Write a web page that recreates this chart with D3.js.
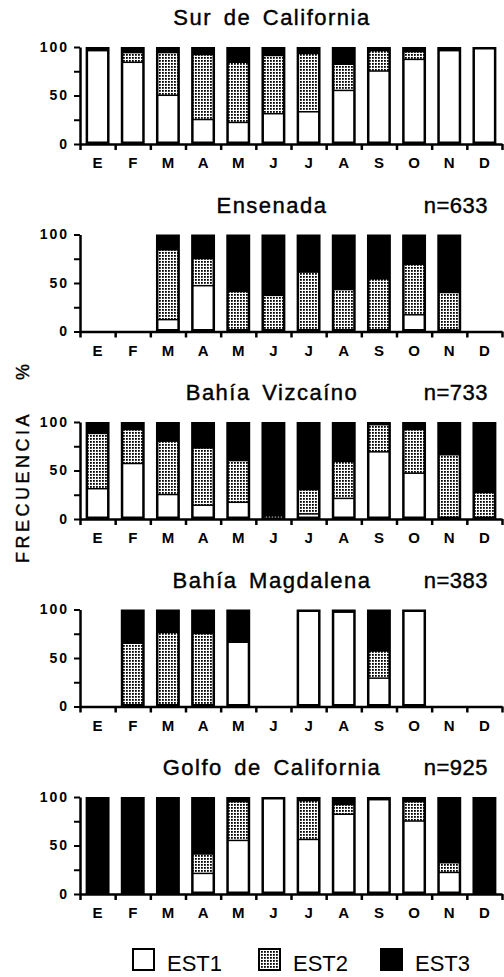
<!DOCTYPE html>
<html>
<head>
<meta charset="utf-8">
<script src="https://cdn.jsdelivr.net/npm/d3@7"></script>
<style>
  body { margin: 0; background: #fff; }
  text { font-family: "Liberation Sans", Arial, sans-serif; fill: #000; }
</style>
</head>
<body>
<div id="chart"></div>
<script>
// months (Spanish initials)
var months = ["E", "F", "M", "A", "M", "J", "J", "A", "S", "O", "N", "D"];
var regions = ["Sur de California", "Ensenada", "Bahía Vizcaíno", "Bahía Magdalena", "Golfo de California"];
var nLabels = ["", "n=633", "n=733", "n=383", "n=925"];
var legendLabels = ["EST1", "EST2", "EST3"];
var yTicks = [0, 25, 50, 75, 100];

// percent per month, null = no sample
var sur1 = [97, 85, 51, 26, 23, 32, 34, 56, 76, 88, 97, 100];
var sur2 = [0, 10, 44, 67, 62, 60, 60, 27, 21, 8, 0, 0];
var sur3 = [3, 5, 5, 7, 15, 8, 6, 17, 3, 4, 3, 0];

var ens1 = [null, null, 13, 48, 0, 0, 0, 0, 0, 18, 0, null];
var ens2 = [null, null, 72, 28, 42, 38, 62, 44, 55, 52, 41, null];
var ens3 = [null, null, 15, 24, 58, 62, 38, 56, 45, 30, 59, null];

var viz1 = [32, 58, 26, 15, 18, 0, 6, 22, 70, 48, 0, 0];
var viz2 = [57, 35, 55, 59, 43, 4, 25, 38, 28, 45, 67, 28];
var viz3 = [11, 7, 19, 26, 39, 96, 69, 40, 2, 7, 33, 72];

var mag1 = [null, 0, 0, 0, 67, null, 100, 98, 30, 100, null, null];
var mag2 = [null, 66, 77, 76, 0, null, 0, 0, 28, 0, null, null];
var mag3 = [null, 34, 23, 24, 33, null, 0, 2, 42, 0, null, null];

var gol1 = [0, 0, 0, 22, 56, 100, 57, 83, 98, 76, 23, 0];
var gol2 = [0, 0, 0, 20, 40, 0, 40, 10, 0, 20, 10, 0];
var gol3 = [100, 100, 100, 58, 4, 0, 3, 7, 2, 4, 67, 100];

var series = [
  [sur1, sur2, sur3],
  [ens1, ens2, ens3],
  [viz1, viz2, viz3],
  [mag1, mag2, mag3],
  [gol1, gol2, gol3]
];

var width = 504, height = 977;
var left = 80, right = 502;
var top0 = 47, step = 187.5, plotH = 97;

var svg = d3.select("#chart").append("svg")
  .attr("width", width)
  .attr("height", height);

// dotted fill for EST2
var pat = svg.append("defs").append("pattern")
  .attr("id", "dots")
  .attr("patternUnits", "userSpaceOnUse")
  .attr("width", 3)
  .attr("height", 3);
pat.append("rect").attr("width", 3).attr("height", 3).attr("fill", "#fff");
pat.append("rect").attr("width", 1.8).attr("height", 1.8).attr("fill", "#000");

var fills = ["#fff", "url(#dots)", "#000"];

var x = d3.scaleBand()
  .domain(d3.range(12))
  .range([left, right])
  .paddingInner(0.32)
  .paddingOuter(0.16);

var xEdge = d3.scaleLinear().domain([0, 12]).range([left, right]);

series.forEach(function (s, p) {
  var g = svg.append("g");
  var y = d3.scaleLinear()
    .domain([0, 100])
    .range([top0 + p * step + plotH, top0 + p * step]);

  // title and n
  g.append("text")
    .attr("x", 272)
    .attr("y", y(100) - 22)
    .attr("text-anchor", "middle")
    .style("font-size", "22px")
    .style("letter-spacing", "1.5px")
    .style("word-spacing", "4px")
    .style("stroke", "#000")
    .style("stroke-width", "0.4px")
    .text(regions[p]);
  g.append("text")
    .attr("x", 488)
    .attr("y", y(100) - 22)
    .attr("text-anchor", "end")
    .style("font-size", "22px")
    .style("letter-spacing", "0.5px")
    .style("stroke", "#000")
    .style("stroke-width", "0.4px")
    .text(nLabels[p]);

  // stacked bars: black body (EST3) with EST1 and EST2 inset on top
  months.forEach(function (m, i) {
    if (s[0][i] === null) return;
    var base = 0;
    var bar = g.append("g");
    bar.append("rect")
      .attr("x", x(i))
      .attr("width", x.bandwidth())
      .attr("y", y(100))
      .attr("height", y(0) - y(100))
      .attr("fill", "#000");
    for (var k = 0; k < 2; k++) {
      var v = s[k][i];
      if (v > 0) {
        bar.append("rect")
          .attr("x", x(i) + 2.5)
          .attr("width", x.bandwidth() - 5)
          .attr("y", Math.max(y(base + v) + 1.5, y(100) + 2.5))
          .attr("height", Math.max(0.8, Math.min(y(base), y(0) - 2.5) - Math.max(y(base + v) + 1.5, y(100) + 2.5)))
          .attr("fill", fills[k]);
      }
      base += v;
    }
  });

  // y axis
  var ya = g.append("g")
    .attr("transform", "translate(" + left + ",0)")
    .call(d3.axisLeft(y)
      .tickValues(yTicks)
      .tickSize(6)
      .tickSizeOuter(0)
      .tickFormat(function (d) { return d % 50 === 0 ? d : ""; }));
  ya.select(".domain").attr("stroke-width", 2.5);
  ya.selectAll(".tick line").attr("stroke-width", 2);
  ya.selectAll(".tick text")
    .attr("x", -11)
    .style("font-family", "Liberation Sans, Arial, sans-serif")
    .style("font-size", "14px")
    .style("font-weight", "bold")
    .style("letter-spacing", "2px");

  // x axis with ticks at month boundaries
  var xa = g.append("g")
    .attr("transform", "translate(0," + y(0) + ")")
    .call(d3.axisBottom(xEdge)
      .tickValues(d3.range(13))
      .tickSize(6)
      .tickSizeOuter(0)
      .tickFormat(""));
  xa.select(".domain").attr("stroke-width", 2.5);
  xa.selectAll(".tick line").attr("stroke-width", 2.5);

  g.selectAll(".mlab")
    .data(months)
    .enter().append("text")
    .attr("class", "mlab")
    .attr("x", function (d, i) { return x(i) + x.bandwidth() / 2; })
    .attr("y", y(0) + 24)
    .attr("text-anchor", "middle")
    .style("font-size", "15px")
    .style("font-weight", "bold")
    .text(function (d) { return d; });
});

// y axis title
svg.append("text")
  .attr("transform", "translate(29,487) rotate(-90)")
  .attr("text-anchor", "middle")
  .style("font-size", "18px")
  .style("letter-spacing", "3.5px")
  .style("stroke", "#000")
  .style("stroke-width", "0.4px")
  .text("FRECUENCIA");
svg.append("text")
  .attr("transform", "translate(29,372) rotate(-90)")
  .attr("text-anchor", "middle")
  .style("font-size", "18px")
  .style("stroke", "#000")
  .style("stroke-width", "0.4px")
  .text("%");

// legend
var legX = [132, 258, 380];
var leg = svg.append("g");
legendLabels.forEach(function (l, i) {
  leg.append("rect")
    .attr("x", legX[i] + 1)
    .attr("y", 949)
    .attr("width", 21)
    .attr("height", 21)
    .attr("fill", fills[i])
    .attr("stroke", "#000")
    .attr("stroke-width", 2);
  leg.append("text")
    .attr("x", legX[i] + 35)
    .attr("y", 971)
    .style("font-size", "22px")
    .text(l);
});
</script>
</body>
</html>
